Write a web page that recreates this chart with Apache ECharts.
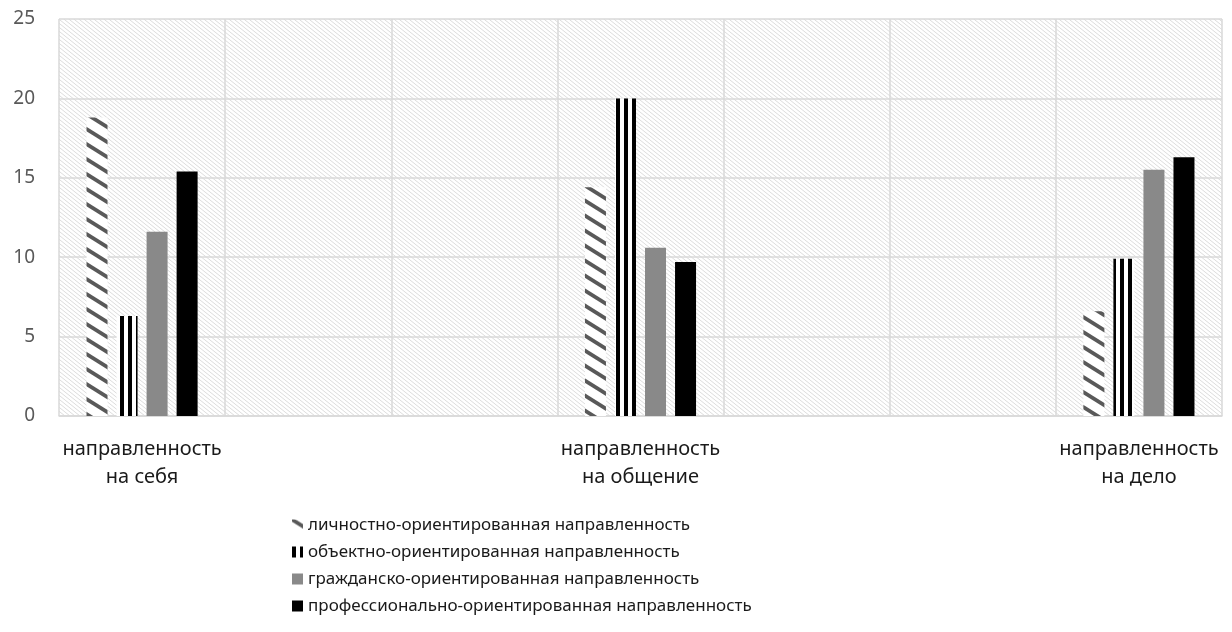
<!DOCTYPE html>
<html>
<head>
<meta charset="utf-8">
<script src="https://cdn.jsdelivr.net/npm/echarts@6/dist/echarts.min.js"></script>
<style>
html,body{margin:0;padding:0;background:#fff;}
#chart{width:1232px;height:632px;}
</style>
</head>
<body>
<div id="chart"></div>
<script>
// ---- data ----
const categories = ['направленность\nна себя', '', '', 'направленность\nна общение', '', '', 'направленность\nна дело'];
const seriesNames = [
  'личностно-ориентированная направленность',
  'объектно-ориентированная направленность',
  'гражданско-ориентированная направленность',
  'профессионально-ориентированная направленность'
];
const personalValues = [18.8, null, null, 14.4, null, null, 6.6];
const objectValues = [6.3, null, null, 20.0, null, null, 9.9];
const civicValues = [11.6, null, null, 10.6, null, null, 15.5];
const professionalValues = [15.4, null, null, 9.7, null, null, 16.3];
const yTicks = { min: 0, max: 25, interval: 5 };

// ---- patterns ----
function diagPattern(W, H, color, lw, bg) {
  const c = document.createElement('canvas');
  c.width = W; c.height = H;
  const g = c.getContext('2d');
  if (bg) { g.fillStyle = bg; g.fillRect(0, 0, W, H); }
  g.strokeStyle = color; g.lineWidth = lw;
  for (const off of [-H, 0, H]) {
    g.beginPath();
    g.moveTo(-W, -H + off);
    g.lineTo(2 * W, 2 * H + off);
    g.stroke();
  }
  return c;
}
function vertPattern(W, blackW) {
  const c = document.createElement('canvas');
  c.width = W; c.height = 4;
  const g = c.getContext('2d');
  g.fillStyle = '#ffffff'; g.fillRect(0, 0, W, 4);
  g.fillStyle = '#000000'; g.fillRect(0, 0, blackW, 4);
  return c;
}
const bgPat = { image: diagPattern(5, 4, '#dcdcdc', 1, '#ffffff'), repeat: 'repeat' };
const hatchPat = { image: diagPattern(24, 15, '#595959', 3.8, '#ffffff'), repeat: 'repeat' };
const stripePat = { image: vertPattern(8, 4), repeat: 'repeat' };

const colors = [hatchPat, stripePat, '#898989', '#000000'];
const valueLists = [personalValues, objectValues, civicValues, professionalValues];

const chart = echarts.init(document.getElementById('chart'), null, { renderer: 'canvas' });
chart.setOption({
  animation: false,
  textStyle: { fontFamily: 'Noto Sans' },
  grid: {
    left: 59, right: 10, top: 19, bottom: 216,
    show: true, backgroundColor: bgPat, borderWidth: 0
  },
  legend: {
    orient: 'vertical', left: 287, top: 510,
    itemWidth: 11, itemHeight: 11, itemGap: 7,
    icon: 'rect',
    textStyle: { fontSize: 17, lineHeight: 20, color: '#1a1a1a', fontFamily: 'Noto Sans' },
    data: seriesNames
  },
  xAxis: {
    type: 'category',
    data: categories,
    axisLine: { lineStyle: { color: '#d9d9d9', width: 1.5 } },
    axisTick: { show: false },
    splitLine: { show: true, interval: 0, lineStyle: { color: '#d9d9d9', width: 1.5 } },
    axisLabel: { interval: 0, margin: 19, fontSize: 20, lineHeight: 28, color: '#1a1a1a', fontFamily: 'Noto Sans' }
  },
  yAxis: {
    type: 'value',
    min: yTicks.min, max: yTicks.max, interval: yTicks.interval,
    axisLine: { show: false },
    axisTick: { show: false },
    splitLine: { lineStyle: { color: '#d9d9d9', width: 1.5 } },
    axisLabel: { margin: 24, fontSize: 19, color: '#595959', fontFamily: 'Noto Sans' }
  },
  series: valueLists.map((vals, i) => ({
    name: seriesNames[i],
    type: 'bar',
    data: vals,
    barWidth: 21,
    barGap: '43%',
    itemStyle: { color: colors[i] }
  }))
});
</script>
</body>
</html>
